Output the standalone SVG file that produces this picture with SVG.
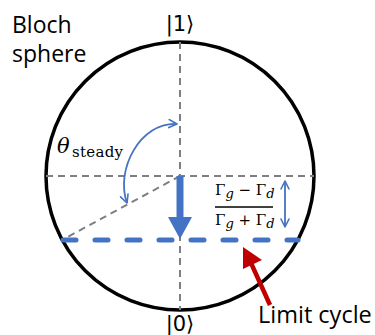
<svg xmlns="http://www.w3.org/2000/svg" width="375" height="335" viewBox="0 0 375 335">
<style>
.gray{stroke:#7F7F7F;stroke-width:2;stroke-dasharray:7 5;fill:none}
.blue{stroke:#4472C4;fill:none}
.lbl{font-family:"Open Sans","Liberation Sans",sans-serif;fill:#000}
.ket{font-family:"DejaVu Sans",sans-serif;font-size:21px;fill:#000;text-anchor:middle}
.math{font-family:"DejaVu Serif","Liberation Serif",serif;fill:#000}
</style>
<defs>
<marker id="openB" viewBox="0 0 10 10" refX="9" refY="5" markerWidth="10" markerHeight="10" markerUnits="userSpaceOnUse" orient="auto-start-reverse">
<polyline points="1,1 9,5 1,9" fill="none" stroke="#4472C4" stroke-width="1.6" stroke-linecap="round" stroke-linejoin="round"/>
</marker>
</defs>
<g id="sphere">
<circle cx="180" cy="176" r="134" fill="none" stroke="#000" stroke-width="3.5"/>
</g>
<g id="connectors">
<line class="gray" x1="180" y1="42" x2="180" y2="310"/>
<line class="gray" x1="46" y1="176" x2="314" y2="176"/>
<line class="gray" x1="180" y1="176" x2="62" y2="240"/>
<line class="blue" x1="63" y1="240" x2="298" y2="240" stroke-width="5" stroke-dasharray="13 19" stroke-linecap="round"/>
<line x1="180" y1="176" x2="180" y2="219" stroke="#4472C4" stroke-width="7"/>
<polygon points="168,217 192,217 180,239" fill="#4472C4"/>
<path class="blue" d="M177,124 C140,122 115,170 127,203" stroke-width="1.8" marker-start="url(#openB)" marker-end="url(#openB)"/>
<line class="blue" x1="285" y1="181" x2="285" y2="227" stroke-width="1.8" marker-start="url(#openB)" marker-end="url(#openB)"/>
<line x1="270" y1="305" x2="251" y2="263" stroke="#C00000" stroke-width="4.5"/>
<polygon points="243,247 262,260 243,269" fill="#C00000"/>
</g>
<g id="labels">
<text class="lbl" x="12" y="33" font-size="23">Bloch</text>
<text class="lbl" x="12" y="62" font-size="23">sphere</text>
<text class="ket" x="180" y="31">|1⟩</text>
<text class="ket" x="180" y="331">|0⟩</text>
<text class="lbl" x="258" y="323" font-size="23.5">Limit cycle</text>
<text class="math" x="57" y="153" font-size="21" font-style="italic">θ</text>
<text class="math" x="72" y="157" font-size="15" textLength="51">steady</text>
<text class="math" x="215" y="195" font-size="15">Γ<tspan font-style="italic" font-size="13" dy="3">g</tspan><tspan dy="-3"> − Γ</tspan><tspan font-style="italic" font-size="13" dy="3">d</tspan></text>
<line x1="215" y1="207" x2="273" y2="207" stroke="#000" stroke-width="1.5"/>
<text class="math" x="215" y="225" font-size="15">Γ<tspan font-style="italic" font-size="13" dy="3">g</tspan><tspan dy="-3"> + Γ</tspan><tspan font-style="italic" font-size="13" dy="3">d</tspan></text>
</g>
</svg>
